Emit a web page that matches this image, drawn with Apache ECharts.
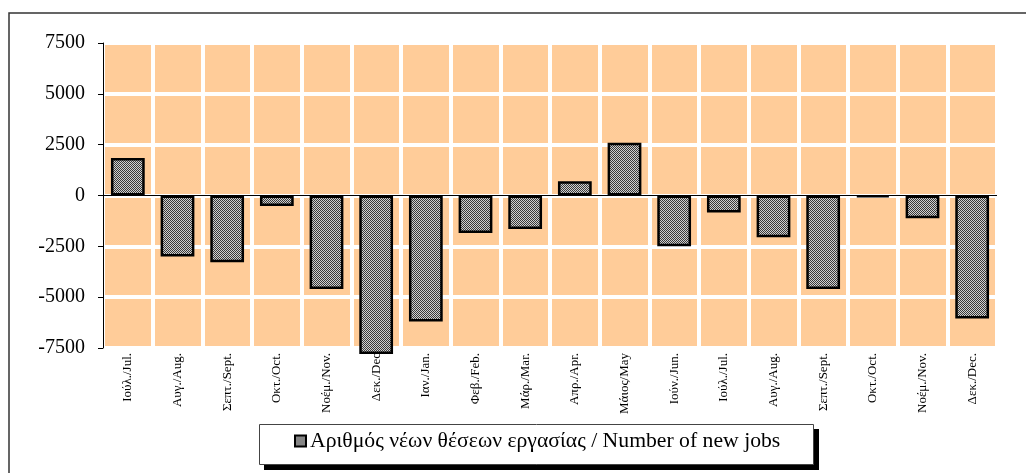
<!DOCTYPE html>
<html>
<head>
<meta charset="utf-8">
<script src="https://cdn.jsdelivr.net/npm/echarts@6/dist/echarts.min.js"></script>
<style>
html,body{margin:0;padding:0;background:#fff;}
#box1{width:1026px;height:473px;}
</style>
</head>
<body>
<div id="box1"></div>
<script>
// categories (Greek / English months)
var months = ['Ιούλ./Jul.','Αυγ./Aug.','Σεπτ./Sept.','Οκτ./Oct.','Νοέμ./Nov.','Δεκ./Dec','Ιαν./Jan.','Φεβ./Feb.','Μάρ./Mar.','Απρ./Apr.','Μάιος/May','Ιούν./Jun.','Ιούλ./Jul.','Αυγ./Aug.','Σεπτ./Sept.','Οκτ./Oct.','Νοέμ./Nov.','Δεκ./Dec.'];
// number of new jobs
var newJobs = [1850, -3000, -3280, -520, -4600, -7800, -6200, -1850, -1650, 700, 2600, -2500, -830, -2050, -4600, -80, -1120, -6050];
var seriesName = 'Αριθμός νέων θέσεων εργασίας / Number of new jobs';

// checkered fill like the original
function makePattern(){
	var c = document.createElement('canvas');
	c.width = 2; c.height = 2;
	var ctx = c.getContext('2d');
	ctx.fillStyle = '#d0d0d0'; ctx.fillRect(0,0,2,2);
	ctx.fillStyle = '#3a3a3a'; ctx.fillRect(0,0,1,1); ctx.fillRect(1,1,1,1);
	return c;
}

var font = '"Liberation Serif", "Times New Roman", serif';
var chart = echarts.init(document.getElementById('box1'));
var option = {
	animation: false,
	textStyle: { fontFamily: font },
	graphic: [{
		type: 'rect',
		shape: { x: 9, y: 13, width: 1030, height: 480 },
		style: { fill: 'none', stroke: '#333', lineWidth: 1.5 },
		silent: true
	}, {
		// legend frame with hard shadow
		type: 'rect', z: 0,
		shape: { x: 264, y: 429, width: 555, height: 41 },
		style: { fill: '#000' },
		silent: true
	}, {
		type: 'rect', z: 1,
		shape: { x: 259.5, y: 424.5, width: 554, height: 40 },
		style: { fill: '#fff', stroke: '#444', lineWidth: 1 },
		silent: true
	}],
	grid: {
		left: 103, right: 29, top: 43, bottom: 125,
		show: true, backgroundColor: '#FFCC99', borderWidth: 0
	},
	legend: {
		left: 294, top: 430, padding: 0, z: 5,
		itemWidth: 11, itemHeight: 11, itemGap: 0,
		textStyle: { fontFamily: font, fontSize: 21.7, color: '#000', padding: [2, 0, 0, -1] },
		data: [{ name: seriesName, icon: 'rect' }]
	},
	xAxis: {
		type: 'category',
		data: months,
		axisLine: { show: false, onZero: false },
		axisTick: { show: false },
		axisLabel: { rotate: 90, interval: 0, fontFamily: font, fontSize: 13, color: '#000', margin: 5 },
		splitLine: { show: true, interval: 0, lineStyle: { color: '#fff', width: 4 } }
	},
	yAxis: {
		type: 'value',
		min: -7500, max: 7500, interval: 2500,
		axisLine: { show: true, lineStyle: { color: '#000', width: 1 } },
		axisTick: { show: true, length: 5, lineStyle: { color: '#000' } },
		axisLabel: { fontFamily: font, fontSize: 20, color: '#000', margin: 18, formatter: function(v){ return String(v); } },
		splitLine: { show: true, lineStyle: { color: '#fff', width: 4 } }
	},
	series: [{
		name: seriesName,
		type: 'bar',
		data: newJobs,
		barWidth: '68%',
		clip: false,
		itemStyle: {
			color: { image: makePattern(), repeat: 'repeat' },
			borderColor: '#000', borderWidth: 2.5
		},
		markLine: {
			silent: true, symbol: 'none', label: { show: false },
			lineStyle: { color: '#000', width: 1, type: 'solid' },
			data: [{ yAxis: 0 }]
		}
	}]
};
chart.setOption(option);
</script>
</body>
</html>
